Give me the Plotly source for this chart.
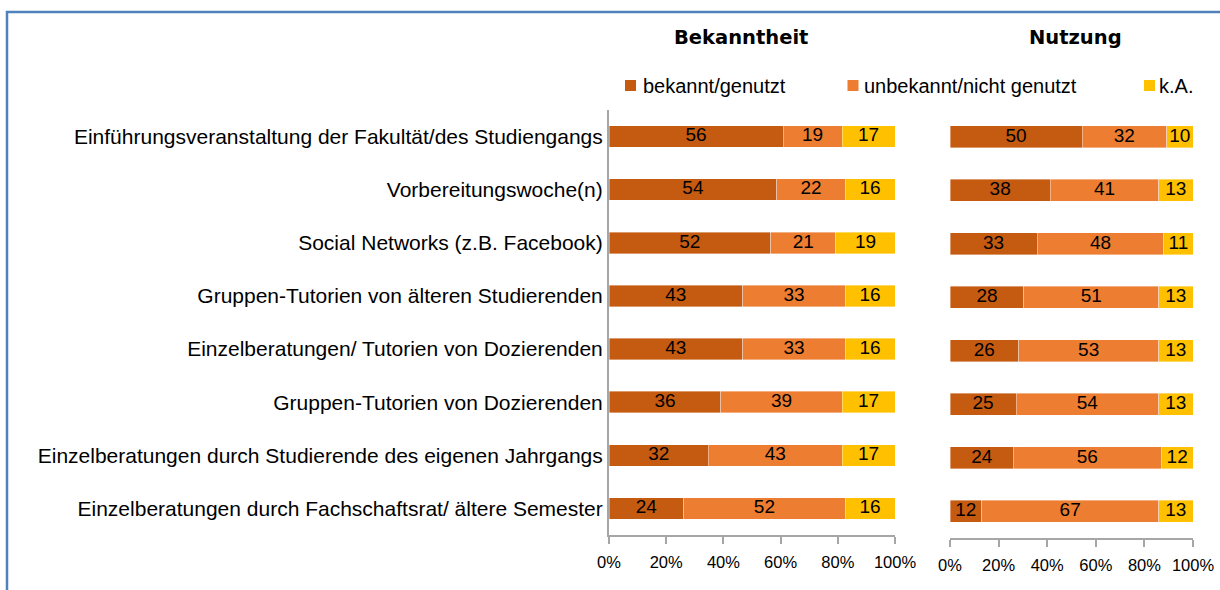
import plotly.graph_objects as go
from plotly.subplots import make_subplots

categories = [
    "Einführungsveranstaltung der Fakultät/des Studiengangs",
    "Vorbereitungswoche(n)",
    "Social Networks (z.B. Facebook)",
    "Gruppen-Tutorien von älteren Studierenden",
    "Einzelberatungen/ Tutorien von Dozierenden",
    "Gruppen-Tutorien von Dozierenden",
    "Einzelberatungen durch Studierende des eigenen Jahrgangs",
    "Einzelberatungen durch Fachschaftsrat/ ältere Semester",
]
series_names = ["bekannt/genutzt", "unbekannt/nicht genutzt", "k.A."]
bekanntheit_bekannt = [56, 54, 52, 43, 43, 36, 32, 24]
bekanntheit_unbekannt = [19, 22, 21, 33, 33, 39, 43, 52]
bekanntheit_ka = [17, 16, 19, 16, 16, 17, 17, 16]
nutzung_genutzt = [50, 38, 33, 28, 26, 25, 24, 12]
nutzung_nicht = [32, 41, 48, 51, 53, 54, 56, 67]
nutzung_ka = [10, 13, 11, 13, 13, 13, 12, 13]
panel_titles = ["Bekanntheit", "Nutzung"]
tick_vals = [0, 20, 40, 60, 80, 100]
tick_text = ["0%", "20%", "40%", "60%", "80%", "100%"]
colors = ["#C55A11", "#ED7D31", "#FFC000"]

W, H = 1220, 590
FONT = "Liberation Sans, Arial, sans-serif"


def px_x(p):
    return p / W


def px_y(p):
    return 1 - p / H


fig = make_subplots(rows=1, cols=2)

panels = [
    [bekanntheit_bekannt, bekanntheit_unbekannt, bekanntheit_ka],
    [nutzung_genutzt, nutzung_nicht, nutzung_ka],
]

for col, series in enumerate(panels, start=1):
    for i, (name, vals) in enumerate(zip(series_names, series)):
        fig.add_trace(go.Bar(
            y=categories, x=vals, name=name, orientation="h",
            marker=dict(color=colors[i], line=dict(color="rgba(255,255,255,0.55)", width=0.7)),
            showlegend=False, legendgroup=name,
        ), row=1, col=col)
    # value labels centred on each (normalised) segment
    totals = [sum(v) for v in zip(*series)]
    cum = [0] * len(categories)
    for i, vals in enumerate(series):
        mids = []
        for k, v in enumerate(vals):
            mids.append((cum[k] + v / 2) / totals[k] * 100)
            cum[k] += v
        fig.add_trace(go.Scatter(
            x=mids, y=categories, mode="text", text=[str(v) for v in vals],
            textposition="middle center",
            textfont=dict(color="black", size=19, family=FONT),
            showlegend=False, hoverinfo="skip",
        ), row=1, col=col)

axis_x_common = dict(range=[0, 100], tickvals=tick_vals, ticktext=tick_text,
                     showline=True, linecolor="#A6A6A6", linewidth=2, ticks="outside", ticklen=7,
                     tickcolor="#A6A6A6", tickwidth=2, showgrid=False, zeroline=False,
                     tickfont=dict(size=16.5, family=FONT), ticklabelstandoff=4)

fig.update_layout(
    width=W, height=H,
    margin=dict(l=0, r=0, t=0, b=0, autoexpand=False),
    paper_bgcolor="white", plot_bgcolor="white",
    barmode="stack", barnorm="percent", bargap=0.595,
    font=dict(family=FONT, size=18, color="black"),
    showlegend=False,
    xaxis=dict(domain=[px_x(609), px_x(895)], anchor="y", **axis_x_common),
    yaxis=dict(domain=[px_y(535), px_y(110)], autorange="reversed", showline=True,
               linecolor="#A6A6A6", linewidth=2, ticks="", showgrid=False,
               tickfont=dict(size=21, family=FONT), ticklabelstandoff=0),
    xaxis2=dict(domain=[px_x(950), px_x(1193)], anchor="y2", **axis_x_common),
    yaxis2=dict(domain=[px_y(538), px_y(110)], autorange="reversed", showline=False,
                showticklabels=False, ticks="", showgrid=False),
)

# custom legend (square markers + labels)
legend_square_x = [630.5, 853, 1149.5]
legend_text_x = [641, 862, 1157]
legend_y = 85.5
for name, c, sx, tx in zip(series_names, colors, legend_square_x, legend_text_x):
    fig.add_shape(type="rect", xref="paper", yref="paper",
                  x0=px_x(sx - 5.5), x1=px_x(sx + 5.5), y0=px_y(legend_y + 5.5), y1=px_y(legend_y - 5.5),
                  line=dict(width=0), fillcolor=c)
    fig.add_annotation(text=name, x=px_x(tx), y=px_y(legend_y), xref="paper", yref="paper",
                       showarrow=False, xanchor="left", yanchor="middle",
                       font=dict(size=20, family=FONT, color="black"))

title_x = [741, 1075]
for t, xx in zip(panel_titles, title_x):
    fig.add_annotation(text="<b>" + t + "</b>", x=px_x(xx), y=px_y(37), xref="paper", yref="paper",
                       showarrow=False, xanchor="center", yanchor="middle",
                       font=dict(size=19.5, family="DejaVu Sans", color="black"))

fig.add_shape(type="rect", xref="paper", yref="paper",
              x0=px_x(7), x1=1.02, y0=-0.02, y1=px_y(12),
              line=dict(color="#4F81BD", width=2.5), fillcolor="rgba(0,0,0,0)", layer="below")

fig.write_html("out.html", config={"displayModeBar": False},
               post_script="document.body.style.margin='0';document.body.style.overflow='hidden';")
